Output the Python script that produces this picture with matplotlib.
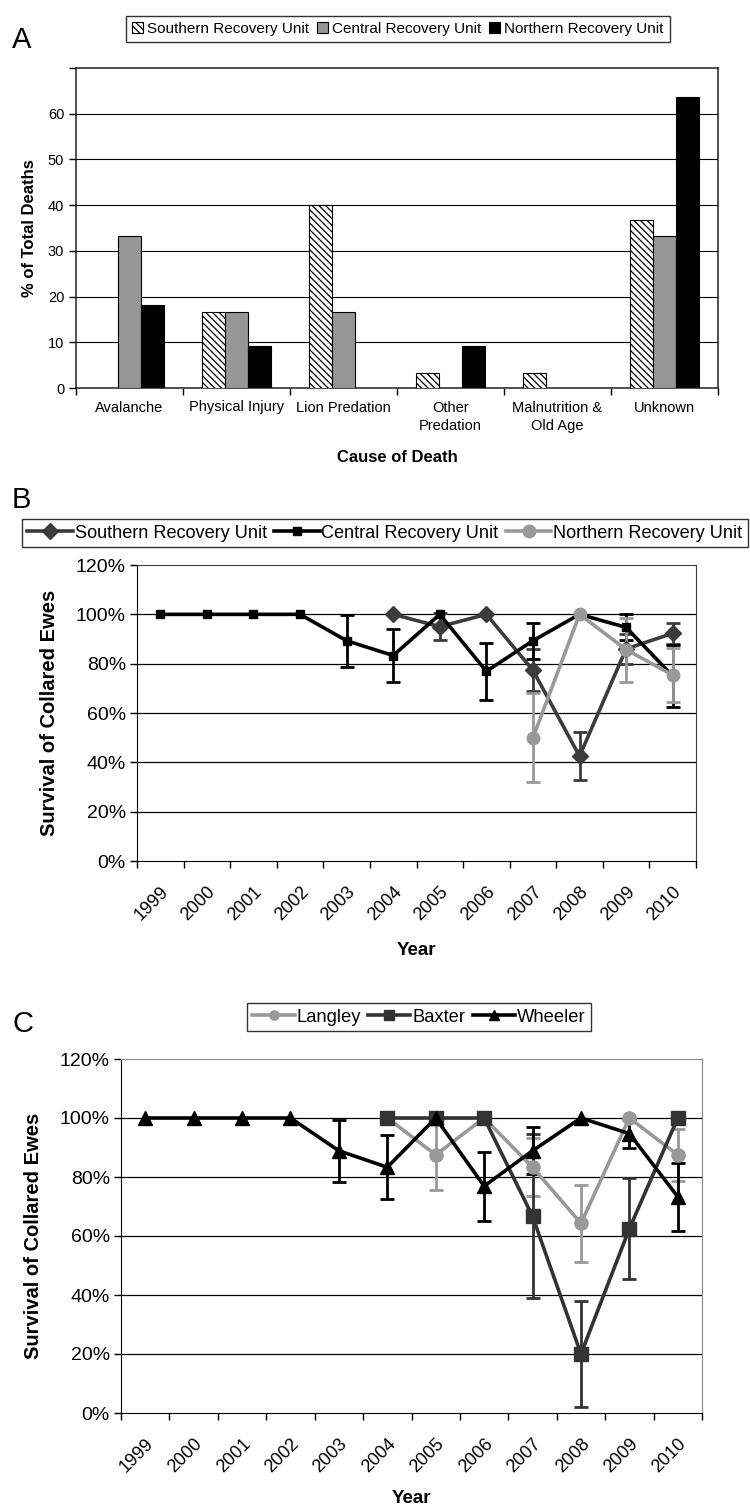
import numpy as np
import matplotlib
matplotlib.use("Agg")
import matplotlib.pyplot as plt
from matplotlib.patches import Patch
from matplotlib.ticker import FixedLocator, NullFormatter

plt.rcParams['font.family'] = ['Liberation Sans', 'DejaVu Sans']
plt.rcParams['hatch.linewidth'] = 0.9

### Data for panel A: cause of death (% of total deaths).
causes = ["Avalanche", "Physical Injury", "Lion Predation", "Other\nPredation", "Malnutrition &\nOld Age", "Unknown"]
south_deaths = [0, 16.7, 40.0, 3.3, 3.3, 36.7]
central_deaths = [33.3, 16.7, 16.7, 0, 0, 33.3]
north_deaths = [18.2, 9.1, 0, 9.1, 0, 63.6]

### Data for panel B: survival by recovery unit (nan = no data, 0 error = no error bar).
years = [str(y) for y in range(1999, 2011)]
nan = np.nan
south_surv = [nan, nan, nan, nan, nan, 100, 95, 100, 77.3, 42.5, 86, 92.3]
south_err = [nan, nan, nan, nan, nan, 0, 5.5, 0, 8.5, 9.7, 6, 4.3]
central_surv = [100, 100, 100, 100, 89.3, 83.3, 100, 76.9, 89.3, 100, 94.7, 75]
central_err = [0, 0, 0, 0, 10.6, 10.8, 0, 11.6, 7.3, 0, 5.3, 12.5]
north_surv = [nan, nan, nan, nan, nan, nan, nan, nan, 50, 100, 85.7, 75.4]
north_err = [nan, nan, nan, nan, nan, nan, nan, nan, 18, 0, 13, 11]

### Data for panel C: survival by herd.
langley_surv = [nan, nan, nan, nan, nan, 100, 87.5, 100, 83.3, 64.3, 100, 87.5]
langley_err = [nan, nan, nan, nan, nan, 0, 11.8, 0, 9.8, 13, 0, 8.9]
baxter_surv = [nan, nan, nan, nan, nan, 100, 100, 100, 66.7, 20, 62.5, 100]
baxter_err = [nan, nan, nan, nan, nan, 0, 0, 0, 27.8, 18, 17, 0]
wheeler_surv = [100, 100, 100, 100, 88.9, 83.3, 100, 76.9, 88.9, 100, 94.7, 73.3]
wheeler_err = [0, 0, 0, 0, 10.5, 10.8, 0, 11.7, 8, 0, 5, 11.6]


def survival_series(ax, vals, errs, color, marker, ms, label):
    # Line with markers plus error bars only where there is an error.
    x = np.arange(len(vals))
    v = np.array(vals, dtype=float)
    e = np.array(errs, dtype=float)
    ok = ~np.isnan(v)
    line, = ax.plot(x[ok], v[ok], color=color, lw=2.6, marker=marker, ms=ms,
                    mfc=color, mec=color, label=label, zorder=3)
    has_err = ok & (np.nan_to_num(e) > 0)
    ax.errorbar(x[has_err], v[has_err], yerr=e[has_err], fmt="none", ecolor=color,
                elinewidth=2, capsize=5, capthick=2, zorder=2.5)
    return line


def survival_axes(ax, frame_color, xlabelpad):
    ax.set_xlim(-0.5, 11.5)
    ax.set_ylim(0, 120)
    ax.set_yticks(range(0, 121, 20))
    ax.set_yticklabels([f"{v}%" for v in range(0, 121, 20)], fontsize=14)
    ax.set_xticks(range(12))
    ax.set_xticklabels(years, rotation=45, ha="right", rotation_mode="anchor", fontsize=13)
    ax.xaxis.set_minor_locator(FixedLocator(np.arange(-0.5, 12, 1)))
    ax.xaxis.set_minor_formatter(NullFormatter())
    ax.tick_params(axis="x", which="major", length=0, pad=16)
    ax.tick_params(axis="x", which="minor", length=5, width=1, direction="out")
    ax.tick_params(axis="y", length=5, width=1, direction="out", pad=3)
    for y in range(20, 120, 20):
        ax.axhline(y, color="black", lw=0.9, zorder=1)
    for s in ["top", "right"]:
        ax.spines[s].set_color(frame_color)
    for s in ["left", "bottom"]:
        ax.spines[s].set_color("black")
    ax.set_ylabel("Survival of Collared Ewes", fontsize=14.5, fontweight="bold", labelpad=12)
    ax.set_xlabel("Year", fontsize=13.5, fontweight="bold", labelpad=xlabelpad)


fig = plt.figure(figsize=(7.5, 15.06), dpi=100)

### Panel A: bar chart.
axA = fig.add_axes([76/750, 1-388/1506, 642/750, 320/1506])
x = np.arange(len(causes))
w = 0.215
styleS = dict(facecolor="white", edgecolor="black", hatch="\\\\\\\\\\", lw=0.8)
styleC = dict(facecolor="#969696", edgecolor="black", lw=0.8)
styleN = dict(facecolor="black", edgecolor="black", lw=0.8)
bS = axA.bar(x - w, south_deaths, w, zorder=3, **styleS)
bC = axA.bar(x, central_deaths, w, zorder=3, **styleC)
bN = axA.bar(x + w, north_deaths, w, zorder=3, **styleN)
# Hide empty bars (value zero).
for bars in (bS, bC, bN):
    for b in bars:
        if b.get_height() == 0:
            b.set_visible(False)
axA.set_xlim(-0.5, 5.5)
axA.set_ylim(0, 70)
axA.set_yticks(range(0, 71, 10))
axA.set_yticklabels([str(v) for v in range(0, 61, 10)] + [""], fontsize=10.5)
for y in range(10, 70, 10):
    axA.axhline(y, color="black", lw=0.8, zorder=1)
axA.set_xticks(x)
axA.set_xticklabels(causes, fontsize=10.5, linespacing=1.45, va="top")
axA.xaxis.set_minor_locator(FixedLocator(np.arange(-0.5, 6, 1)))
axA.xaxis.set_minor_formatter(NullFormatter())
axA.tick_params(axis="x", which="major", length=0, pad=9)
axA.tick_params(axis="x", which="minor", length=5, width=1)
axA.tick_params(axis="y", length=5, width=1)
for s in axA.spines.values():
    s.set_linewidth(1.1)
    s.set_color("#202020")
axA.set_ylabel("% of Total Deaths", fontsize=12, fontweight="bold", labelpad=8)
axA.set_xlabel("Cause of Death", fontsize=12, fontweight="bold", labelpad=12)
handlesA = [Patch(label="Southern Recovery Unit", **styleS),
            Patch(label="Central Recovery Unit", **styleC),
            Patch(label="Northern Recovery Unit", **styleN)]
fig.legend(handles=handlesA, loc="lower left", bbox_to_anchor=(126/750, 1-42/1506),
           ncol=3, fontsize=11, frameon=True, fancybox=False, edgecolor="black",
           handlelength=0.7, handleheight=0.7, handletextpad=0.3, columnspacing=0.5,
           borderpad=0.4, borderaxespad=0)
fig.text(12/750, 1-48/1506, "A", fontsize=21)

### Panel B: recovery units.
axB = fig.add_axes([137/750, 1-861/1506, 559/750, 296/1506])
lS = survival_series(axB, south_surv, south_err, "#3c3c3c", "D", 8, "Southern Recovery Unit")
lC = survival_series(axB, central_surv, central_err, "black", "s", 5.5, "Central Recovery Unit")
lN = survival_series(axB, north_surv, north_err, "#999999", "o", 9, "Northern Recovery Unit")
survival_axes(axB, "#404040", 13)
fig.legend(handles=[lS, lC, lN], loc="lower left", bbox_to_anchor=(22/750, 1-547/1506),
           ncol=3, fontsize=13.1, frameon=True, fancybox=False, edgecolor="black",
           handlelength=2.5, handletextpad=0.1, columnspacing=0.4, borderpad=0.3,
           borderaxespad=0)
fig.text(12/750, 1-508/1506, "B", fontsize=21)

### Panel C: herds.
axC = fig.add_axes([121/750, 1-1413/1506, 581/750, 354/1506])
lL = survival_series(axC, langley_surv, langley_err, "#999999", "o", 9.5, "Langley")
lB = survival_series(axC, baxter_surv, baxter_err, "#333333", "s", 9.5, "Baxter")
lW = survival_series(axC, wheeler_surv, wheeler_err, "black", "^", 10, "Wheeler")
survival_axes(axC, "#8a8a8a", 10)
fig.legend(handles=[lL, lB, lW], loc="lower left", bbox_to_anchor=(247/750, 1-1031/1506),
           ncol=3, fontsize=13.2, frameon=True, fancybox=False, edgecolor="black",
           handlelength=2.3, handletextpad=0.1, columnspacing=0.4, borderpad=0.3,
           borderaxespad=0, markerscale=0.7)
fig.text(13/750, 1-1032/1506, "C", fontsize=21)

fig.savefig("out.png", dpi=100)
